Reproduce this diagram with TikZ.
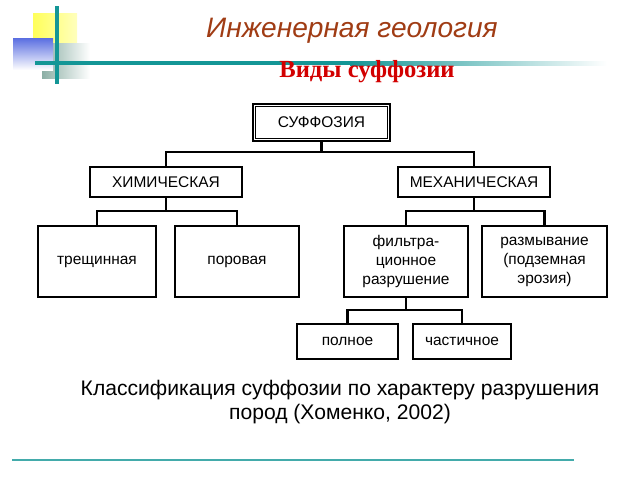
\documentclass[tikz,border=0pt]{standalone}
\usepackage{fontspec}
\setmainfont{Liberation Sans}
\newfontfamily\headserif{Liberation Serif}
\usetikzlibrary{positioning,calc}
\definecolor{tealline}{RGB}{20,150,150}
\definecolor{titlebrown}{RGB}{160,60,20}
\definecolor{subred}{RGB}{210,0,0}
\definecolor{sqyellow}{RGB}{255,255,90}
\definecolor{sqblue}{RGB}{90,110,225}
\definecolor{sqgray}{RGB}{140,175,165}

\begin{document}
\begin{tikzpicture}[x=0.025cm,y=-0.025cm,
    box/.style={draw,line width=1.5pt,inner sep=2pt,align=center,
      font=\fontsize{11}{13.5}\selectfont},
    wd/.style={minimum width=#1*0.025cm},
    ht/.style={minimum height=#1*0.025cm},
    link/.style={line width=1.5pt},
  ]
  \useasboundingbox (0,0) rectangle (640,480);
  % decoration in the corner
  \shade[left color=sqyellow,right color=sqyellow!40!white] (33,13) rectangle (77,43);
  \shade[left color=sqgray,right color=white] (42,43) rectangle (90,78);
  \shade[shading angle=225,top color=sqblue,bottom color=white] (13,38) rectangle (53,70);
  \fill[tealline] (55,6) rectangle (59,84);
  \fill[tealline] (35,61) rectangle (350,65);
  \shade[left color=tealline,right color=white] (350,61) rectangle (607,65);

  % headings
  \node[anchor=base,text=titlebrown,font=\fontsize{20}{24}\itshape] (title) at (352,37) {Инженерная геология};
  \node[anchor=base,text=subred,font=\headserif\bfseries\fontsize{17.5}{20}\selectfont] (sub) at (367,77) {Виды суффозии};

  % tree
  \node[box,wd=137,ht=37] (suf) at (321.5,122.5) {СУФФОЗИЯ};
  \draw[line width=.6pt] ([shift={(3.5,3.5)}]suf.north west) rectangle ([shift={(-3.5,-3.5)}]suf.south east);
  \node[box,wd=152,ht=30] (chem) at (166,182) {ХИМИЧЕСКАЯ};
  \node[box,wd=152,ht=30] (mech) at (474,182) {МЕХАНИЧЕСКАЯ};
  \node[box,wd=118,ht=71] (crack) at (97,261.5) {трещинная};
  \node[box,wd=124,ht=71] (pore) at (237,261.5) {поровая};
  \node[box,wd=124,ht=71] (filtr) at (406,261.5) {фильтра-\\ционное\\разрушение};
  \node[box,wd=125,ht=71] (wash) at (544.5,261.5) {размывание\\(подземная\\эрозия)};
  \node[box,wd=101,ht=35] (full) at (347.5,341.5) {полное};
  \node[box,wd=98,ht=35] (part) at (462,341.5) {частичное};

  \coordinate (forka) at (0,152);
  \coordinate (forkb) at (0,211);
  \coordinate (forkc) at (0,310);
  \draw[link] (suf.south) -- (suf.south |- forka);
  \draw[link] (chem.north) |- (forka -| mech) -- (mech.north);
  \draw[link] (chem.south) -- (chem.south |- forkb);
  \draw[link] (crack.north) |- (forkb -| pore) -- (pore.north);
  \draw[link] (mech.south) -- (mech.south |- forkb);
  \draw[link] (filtr.north) |- (forkb -| wash) -- (wash.north);
  \draw[link] (filtr.south) -- (filtr.south |- forkc);
  \draw[link] (full.north) |- (forkc -| part) -- (part.north);

  % caption
  \node[anchor=base,align=center,font=\fontsize{15}{16.4}\selectfont] (caption) at (340,419)
    {Классификация суффозии по характеру разрушения\\пород (Хоменко, 2002)};
  \draw[tealline!80!white,line width=.9pt] (12,460) -- (574,460);
\end{tikzpicture}
\end{document}
